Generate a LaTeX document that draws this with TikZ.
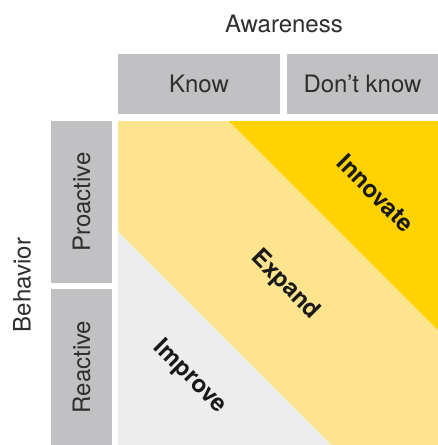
\documentclass[tikz,border=0pt]{standalone}
\usepackage{fontspec}
\setmainfont{TeX Gyre Heros}
\definecolor{boxgray}{HTML}{C1C1C3}
\definecolor{lightyel}{HTML}{FFE490}
\definecolor{darkyel}{HTML}{FFD200}
\definecolor{paleg}{HTML}{EDEDED}
\definecolor{txt}{HTML}{2E2E2E}
\begin{document}
\begin{tikzpicture}[x=1pt,y=1pt,
  hdr/.style={fill=boxgray,inner sep=0pt,outer sep=0pt,text=txt,font=\fontsize{24}{28}\selectfont},
  axis/.style={text=txt,font=\fontsize{24}{28}\selectfont,inner sep=0pt},
  zone/.style={text=black!90,font=\fontsize{24}{28}\selectfont\bfseries,rotate=-45,inner sep=0pt}]
\fill[white] (0,0) rectangle (438,-445);
\useasboundingbox (0,0) rectangle (438,-445);
% header boxes
\node[hdr,minimum width=162pt,minimum height=60pt] (know) at (199,-84) {Know};
\node[hdr,minimum width=151pt,minimum height=60pt] (dont) at (362.5,-84) {Don’t know};
\node[hdr,minimum width=61pt,minimum height=162pt] (pro) at (81.5,-202) {};
\node[hdr,minimum width=61pt,minimum height=156pt] (rea) at (81.5,-367) {};
\node[axis,rotate=90] (protxt) at (pro.center) {Proactive};
\node[axis,rotate=90] (reatxt) at (rea.center) {Reactive};
\node[axis] (aware) at (284,-24) {Awareness};
\node[axis,rotate=90] (behav) at (22,-285) {Behavior};
% matrix area
\fill[lightyel] (118,-121) rectangle (438,-445);
\fill[paleg] (118,-231.7) -- (118,-445) -- (331.3,-445) -- cycle;
\fill[darkyel] (229,-121) -- (438,-121) -- (438,-330) -- cycle;
\node[zone] (innov) at (376,-193) {Innovate};
\node[zone] (expand) at (285,-285) {Expand};
\node[zone] (improve) at (190,-377) {Improve};
\end{tikzpicture}
\end{document}
